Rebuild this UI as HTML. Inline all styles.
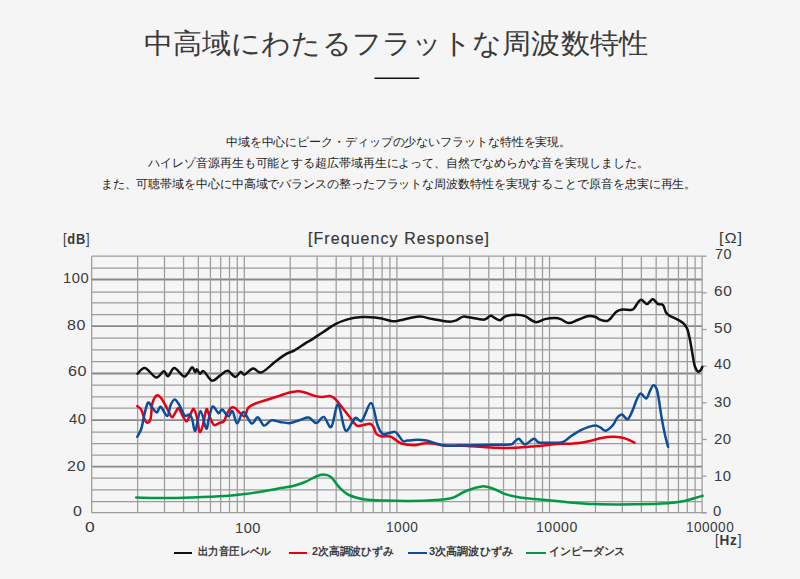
<!DOCTYPE html>
<html lang="ja"><head><meta charset="utf-8">
<style>
html,body{margin:0;padding:0;}
body{width:800px;height:579px;background:#f5f5f5;position:relative;overflow:hidden;font-family:"Liberation Sans",sans-serif;color:#333;}
.a{position:absolute;white-space:nowrap;}
h1{position:absolute;left:0;top:26px;width:795px;margin:0;text-align:center;font-size:30px;line-height:36px;font-weight:normal;color:#222;}
.rule{position:absolute;left:374px;top:77.5px;width:45px;height:1.5px;background:#111;}
.p{position:absolute;left:0;width:797px;text-align:center;font-size:12px;line-height:21px;color:#222;letter-spacing:-0.09px;}
.ax{position:absolute;font-size:14px;line-height:14px;color:#333;white-space:nowrap;}
.lb{position:absolute;line-height:1;white-space:nowrap;transform-origin:0 0;color:#3a3a3a;}
.lg{position:absolute;font-size:11.5px;line-height:14px;color:#333;white-space:nowrap;font-weight:bold;}
.sw{position:absolute;height:2px;width:19px;}
svg{position:absolute;left:0;top:0;}
.g{stroke:#9c9c9c;stroke-width:1.25;}
.gm{stroke:#888;stroke-width:1.8;}
path{fill:none;stroke-width:2.5;stroke-linejoin:round;stroke-linecap:round;}
</style></head><body>
<div class="p" style="top:132px">中域を中心にピーク・ディップの少ないフラットな特性を実現。</div>
<div class="p" style="top:153px">ハイレゾ音源再生も可能とする超広帯域再生によって、自然でなめらかな音を実現しました。</div>
<div class="p" style="top:174px">また、可聴帯域を中心に中高域でバランスの整ったフラットな周波数特性を実現することで原音を忠実に再生。</div>

<svg width="800" height="579" viewBox="0 0 800 579">
<line x1="374.5" y1="78.3" x2="419.2" y2="78.3" stroke="#111" stroke-width="1.5"/>
<line class="g" x1="91.70" y1="256.10" x2="702.10" y2="256.10"/>
<line class="g" x1="91.70" y1="268.00" x2="702.10" y2="268.00"/>
<line class="gm" x1="91.70" y1="279.50" x2="702.10" y2="279.50"/>
<line class="g" x1="91.70" y1="292.00" x2="702.10" y2="292.00"/>
<line class="g" x1="91.70" y1="302.90" x2="702.10" y2="302.90"/>
<line class="g" x1="91.70" y1="314.60" x2="702.10" y2="314.60"/>
<line class="gm" x1="91.70" y1="326.10" x2="702.10" y2="326.10"/>
<line class="g" x1="91.70" y1="338.20" x2="702.10" y2="338.20"/>
<line class="g" x1="91.70" y1="349.80" x2="702.10" y2="349.80"/>
<line class="g" x1="91.70" y1="361.50" x2="702.10" y2="361.50"/>
<line class="gm" x1="91.70" y1="373.50" x2="702.10" y2="373.50"/>
<line class="g" x1="91.70" y1="385.00" x2="702.10" y2="385.00"/>
<line class="g" x1="91.70" y1="396.80" x2="702.10" y2="396.80"/>
<line class="g" x1="91.70" y1="408.00" x2="702.10" y2="408.00"/>
<line class="gm" x1="91.70" y1="420.10" x2="702.10" y2="420.10"/>
<line class="g" x1="91.70" y1="432.00" x2="702.10" y2="432.00"/>
<line class="g" x1="91.70" y1="443.70" x2="702.10" y2="443.70"/>
<line class="g" x1="91.70" y1="455.20" x2="702.10" y2="455.20"/>
<line class="gm" x1="91.70" y1="466.60" x2="702.10" y2="466.60"/>
<line class="g" x1="91.70" y1="478.10" x2="702.10" y2="478.10"/>
<line class="g" x1="91.70" y1="489.80" x2="702.10" y2="489.80"/>
<line class="g" x1="91.70" y1="501.60" x2="702.10" y2="501.60"/>
<line class="g" x1="91.70" y1="512.70" x2="702.10" y2="512.70"/>
<line class="g" x1="91.70" y1="256.20" x2="91.70" y2="512.80"/>
<line class="g" x1="137.64" y1="256.20" x2="137.64" y2="512.80"/>
<line class="g" x1="164.51" y1="256.20" x2="164.51" y2="512.80"/>
<line class="g" x1="183.57" y1="256.20" x2="183.57" y2="512.80"/>
<line class="g" x1="198.36" y1="256.20" x2="198.36" y2="512.80"/>
<line class="g" x1="210.45" y1="256.20" x2="210.45" y2="512.80"/>
<line class="g" x1="220.66" y1="256.20" x2="220.66" y2="512.80"/>
<line class="g" x1="229.51" y1="256.20" x2="229.51" y2="512.80"/>
<line class="g" x1="237.32" y1="256.20" x2="237.32" y2="512.80"/>
<line class="g" x1="244.30" y1="256.20" x2="244.30" y2="512.80"/>
<line class="g" x1="290.24" y1="256.20" x2="290.24" y2="512.80"/>
<line class="g" x1="317.11" y1="256.20" x2="317.11" y2="512.80"/>
<line class="g" x1="336.17" y1="256.20" x2="336.17" y2="512.80"/>
<line class="g" x1="350.96" y1="256.20" x2="350.96" y2="512.80"/>
<line class="g" x1="363.05" y1="256.20" x2="363.05" y2="512.80"/>
<line class="g" x1="373.26" y1="256.20" x2="373.26" y2="512.80"/>
<line class="g" x1="382.11" y1="256.20" x2="382.11" y2="512.80"/>
<line class="g" x1="389.92" y1="256.20" x2="389.92" y2="512.80"/>
<line class="g" x1="396.90" y1="256.20" x2="396.90" y2="512.80"/>
<line class="g" x1="442.84" y1="256.20" x2="442.84" y2="512.80"/>
<line class="g" x1="469.71" y1="256.20" x2="469.71" y2="512.80"/>
<line class="g" x1="488.77" y1="256.20" x2="488.77" y2="512.80"/>
<line class="g" x1="503.56" y1="256.20" x2="503.56" y2="512.80"/>
<line class="g" x1="515.65" y1="256.20" x2="515.65" y2="512.80"/>
<line class="g" x1="525.86" y1="256.20" x2="525.86" y2="512.80"/>
<line class="g" x1="534.71" y1="256.20" x2="534.71" y2="512.80"/>
<line class="g" x1="542.52" y1="256.20" x2="542.52" y2="512.80"/>
<line class="g" x1="549.50" y1="256.20" x2="549.50" y2="512.80"/>
<line class="g" x1="595.44" y1="256.20" x2="595.44" y2="512.80"/>
<line class="g" x1="622.31" y1="256.20" x2="622.31" y2="512.80"/>
<line class="g" x1="641.37" y1="256.20" x2="641.37" y2="512.80"/>
<line class="g" x1="656.16" y1="256.20" x2="656.16" y2="512.80"/>
<line class="g" x1="668.25" y1="256.20" x2="668.25" y2="512.80"/>
<line class="g" x1="678.46" y1="256.20" x2="678.46" y2="512.80"/>
<line class="g" x1="687.31" y1="256.20" x2="687.31" y2="512.80"/>
<line class="g" x1="695.12" y1="256.20" x2="695.12" y2="512.80"/>
<line class="g" x1="702.10" y1="256.20" x2="702.10" y2="512.80"/>
<line class="g" x1="702.10" y1="512.80" x2="706.60" y2="512.80"/>
<line class="g" x1="702.10" y1="512.80" x2="706.60" y2="512.80"/>
<line class="g" x1="702.10" y1="476.14" x2="706.60" y2="476.14"/>
<line class="g" x1="702.10" y1="439.49" x2="706.60" y2="439.49"/>
<line class="g" x1="702.10" y1="402.83" x2="706.60" y2="402.83"/>
<line class="g" x1="702.10" y1="366.17" x2="706.60" y2="366.17"/>
<line class="g" x1="702.10" y1="329.51" x2="706.60" y2="329.51"/>
<line class="g" x1="702.10" y1="292.86" x2="706.60" y2="292.86"/>
<line class="g" x1="702.10" y1="256.20" x2="706.60" y2="256.20"/>
<path d="M136.25,497.50 C141.46,497.60 158.12,498.10 167.50,498.10 C176.88,498.10 182.92,497.85 192.50,497.50 C202.08,497.15 216.25,496.58 225.00,496.00 C233.75,495.42 238.33,494.83 245.00,494.00 C251.67,493.17 259.00,492.00 265.00,491.00 C271.00,490.00 276.33,488.83 281.00,488.00 C285.67,487.17 289.00,487.00 293.00,486.00 C297.00,485.00 301.33,483.50 305.00,482.00 C308.67,480.50 312.00,478.23 315.00,477.00 C318.00,475.77 320.33,474.60 323.00,474.60 C325.67,474.60 328.33,474.93 331.00,477.00 C333.67,479.07 336.00,484.00 339.00,487.00 C342.00,490.00 344.67,492.93 349.00,495.00 C353.33,497.07 359.00,498.47 365.00,499.40 C371.00,500.33 377.50,500.33 385.00,500.60 C392.50,500.87 401.50,501.10 410.00,501.00 C418.50,500.90 429.00,500.50 436.00,500.00 C443.00,499.50 447.00,499.50 452.00,498.00 C457.00,496.50 461.00,492.93 466.00,491.00 C471.00,489.07 477.33,486.73 482.00,486.40 C486.67,486.07 490.00,487.67 494.00,489.00 C498.00,490.33 501.67,493.00 506.00,494.40 C510.33,495.80 514.33,496.55 520.00,497.40 C525.67,498.25 533.12,498.80 540.00,499.50 C546.88,500.20 552.04,500.83 561.25,501.60 C570.46,502.37 582.86,503.65 595.25,504.10 C607.64,504.55 623.56,504.43 635.60,504.30 C647.64,504.17 659.35,503.87 667.50,503.30 C675.65,502.73 679.90,501.78 684.50,500.90 C689.10,500.02 692.08,498.85 695.10,498.00 C698.12,497.15 701.35,496.17 702.60,495.80" stroke="#009a44"/>
<path d="M137.30,406.20 C137.98,406.82 140.20,407.73 141.40,409.90 C142.60,412.07 143.47,417.05 144.50,419.20 C145.53,421.35 146.57,422.97 147.60,422.80 C148.63,422.63 149.92,421.38 150.70,418.20 C151.48,415.02 151.27,407.50 152.30,403.70 C153.33,399.90 155.27,396.10 156.90,395.40 C158.53,394.70 160.37,397.27 162.10,399.50 C163.83,401.73 165.65,405.87 167.30,408.80 C168.95,411.73 170.62,416.57 172.00,417.10 C173.38,417.63 174.48,413.47 175.60,412.00 C176.72,410.53 177.50,407.62 178.70,408.30 C179.90,408.98 181.50,413.93 182.80,416.10 C184.10,418.27 185.37,421.30 186.50,421.30 C187.63,421.30 188.40,418.18 189.60,416.10 C190.80,414.02 192.40,408.28 193.70,408.80 C195.00,409.32 196.45,415.40 197.40,419.20 C198.35,423.00 198.55,430.38 199.40,431.60 C200.25,432.82 201.37,430.12 202.50,426.50 C203.63,422.88 205.27,412.30 206.20,409.90 C207.13,407.50 207.27,410.35 208.10,412.10 C208.93,413.85 210.17,418.23 211.20,420.40 C212.23,422.57 212.92,424.67 214.30,425.10 C215.68,425.53 217.85,423.70 219.50,423.00 C221.15,422.30 222.98,422.37 224.20,420.90 C225.42,419.43 225.68,416.35 226.80,414.20 C227.92,412.05 229.53,409.03 230.90,408.00 C232.27,406.97 233.45,407.13 235.00,408.00 C236.55,408.87 238.55,411.82 240.20,413.20 C241.85,414.58 243.60,417.17 244.90,416.30 C246.20,415.43 246.37,410.08 248.00,408.00 C249.63,405.92 251.50,405.18 254.70,403.80 C257.90,402.42 262.98,401.07 267.20,399.70 C271.42,398.33 276.62,396.70 280.00,395.60 C283.38,394.50 284.58,393.83 287.50,393.10 C290.42,392.38 294.58,391.35 297.50,391.25 C300.42,391.15 302.29,391.77 305.00,392.50 C307.71,393.23 310.83,394.87 313.75,395.60 C316.67,396.33 319.79,396.83 322.50,396.90 C325.21,396.97 327.92,395.69 330.00,396.00 C332.08,396.31 333.12,397.04 335.00,398.75 C336.88,400.46 338.75,403.12 341.25,406.25 C343.75,409.38 347.50,414.33 350.00,417.50 C352.50,420.67 354.38,423.90 356.25,425.25 C358.12,426.60 358.96,425.85 361.25,425.60 C363.54,425.35 367.92,423.43 370.00,423.75 C372.08,424.07 372.71,425.83 373.75,427.50 C374.79,429.17 375.00,432.29 376.25,433.75 C377.50,435.21 378.96,435.79 381.25,436.25 C383.54,436.71 387.71,435.98 390.00,436.50 C392.29,437.02 393.12,438.23 395.00,439.40 C396.88,440.57 398.12,442.52 401.25,443.50 C404.38,444.48 410.00,445.25 413.75,445.25 C417.50,445.25 420.62,443.79 423.75,443.50 C426.88,443.21 429.17,443.15 432.50,443.50 C435.83,443.85 439.17,445.25 443.75,445.60 C448.33,445.95 455.21,445.49 460.00,445.60 C464.79,445.71 466.25,445.89 472.50,446.25 C478.75,446.61 490.21,447.50 497.50,447.75 C504.79,448.00 510.00,448.00 516.25,447.75 C522.50,447.50 529.79,446.71 535.00,446.25 C540.21,445.79 543.33,445.42 547.50,445.00 C551.67,444.58 556.17,443.97 560.00,443.75 C563.83,443.53 567.02,443.88 570.50,443.70 C573.98,443.52 577.43,443.22 580.90,442.70 C584.37,442.18 587.85,441.38 591.30,440.60 C594.75,439.82 597.98,438.63 601.60,438.00 C605.22,437.37 609.72,436.88 613.00,436.80 C616.28,436.72 618.97,437.10 621.30,437.50 C623.63,437.90 624.80,438.33 627.00,439.20 C629.20,440.07 633.25,442.12 634.50,442.70" stroke="#e60012"/>
<path d="M137.30,436.80 C137.98,435.42 140.20,432.30 141.40,428.50 C142.60,424.70 143.38,418.32 144.50,414.00 C145.62,409.68 146.80,403.63 148.10,402.60 C149.40,401.57 150.83,406.15 152.30,407.80 C153.77,409.45 155.52,412.67 156.90,412.50 C158.28,412.33 158.87,406.20 160.60,406.80 C162.33,407.40 165.67,416.28 167.30,416.10 C168.93,415.92 169.18,408.47 170.40,405.70 C171.62,402.93 173.05,399.50 174.60,399.50 C176.15,399.50 177.98,403.02 179.70,405.70 C181.42,408.38 183.25,414.13 184.90,415.60 C186.55,417.07 188.38,413.90 189.60,414.50 C190.82,415.10 191.25,416.52 192.20,419.20 C193.15,421.88 193.92,431.98 195.30,430.60 C196.68,429.22 198.68,411.23 200.50,410.90 C202.32,410.57 204.77,427.53 206.20,428.60 C207.63,429.67 208.00,421.00 209.10,417.30 C210.20,413.60 211.23,407.08 212.80,406.40 C214.37,405.72 216.95,412.68 218.50,413.20 C220.05,413.72 220.47,408.98 222.10,409.50 C223.73,410.02 226.57,416.03 228.30,416.30 C230.03,416.57 231.03,409.90 232.50,411.10 C233.97,412.30 235.30,423.33 237.10,423.50 C238.90,423.67 240.88,412.10 243.30,412.10 C245.72,412.10 249.18,422.63 251.60,423.50 C254.02,424.37 255.72,416.95 257.80,417.30 C259.88,417.65 261.85,425.08 264.10,425.60 C266.35,426.12 268.65,421.02 271.30,420.40 C273.95,419.78 276.88,421.45 280.00,421.90 C283.12,422.35 286.67,423.42 290.00,423.10 C293.33,422.78 296.88,420.93 300.00,420.00 C303.12,419.07 306.04,416.98 308.75,417.50 C311.46,418.02 313.75,423.20 316.25,423.10 C318.75,423.00 321.25,416.27 323.75,416.90 C326.25,417.53 328.86,428.98 331.25,426.90 C333.64,424.82 335.71,403.78 338.10,404.40 C340.49,405.02 342.78,428.32 345.60,430.60 C348.42,432.88 352.28,419.77 355.00,418.10 C357.72,416.43 359.19,423.10 361.90,420.60 C364.61,418.10 368.65,402.37 371.25,403.10 C373.85,403.83 375.62,419.89 377.50,425.00 C379.38,430.11 380.62,432.40 382.50,433.75 C384.38,435.10 386.67,433.41 388.75,433.10 C390.83,432.79 393.33,431.48 395.00,431.90 C396.67,432.32 397.40,434.04 398.75,435.60 C400.10,437.16 401.64,440.42 403.10,441.25 C404.56,442.08 405.10,440.85 407.50,440.60 C409.90,440.35 414.38,439.75 417.50,439.75 C420.62,439.75 423.33,440.04 426.25,440.60 C429.17,441.16 431.88,442.27 435.00,443.10 C438.12,443.93 440.83,445.18 445.00,445.60 C449.17,446.02 453.33,445.70 460.00,445.60 C466.67,445.50 476.67,445.20 485.00,445.00 C493.33,444.80 505.21,444.82 510.00,444.40 C514.79,443.98 512.29,443.44 513.75,442.50 C515.21,441.56 516.88,438.43 518.75,438.75 C520.62,439.07 522.50,444.40 525.00,444.40 C527.50,444.40 531.46,439.07 533.75,438.75 C536.04,438.43 536.46,441.83 538.75,442.50 C541.04,443.17 543.58,442.80 547.50,442.75 C551.42,442.70 558.47,443.24 562.30,442.20 C566.13,441.16 567.40,438.50 570.50,436.50 C573.60,434.50 577.95,431.77 580.90,430.20 C583.85,428.63 585.78,427.87 588.20,427.10 C590.62,426.33 593.33,425.52 595.40,425.60 C597.47,425.68 598.87,426.74 600.60,427.60 C602.33,428.46 603.73,431.18 605.80,430.75 C607.87,430.32 611.10,427.16 613.00,425.00 C614.90,422.84 615.70,419.53 617.20,417.80 C618.70,416.07 620.27,414.37 622.00,414.60 C623.73,414.83 625.87,419.82 627.60,419.20 C629.33,418.58 630.90,414.12 632.40,410.90 C633.90,407.68 635.22,402.78 636.60,399.90 C637.98,397.02 639.10,393.83 640.70,393.60 C642.30,393.37 644.70,398.83 646.20,398.50 C647.70,398.17 648.55,393.78 649.70,391.60 C650.85,389.42 651.95,385.87 653.10,385.40 C654.25,384.93 655.67,386.62 656.60,388.80 C657.53,390.98 657.90,393.90 658.70,398.50 C659.50,403.10 660.37,410.42 661.40,416.40 C662.43,422.38 663.78,429.33 664.90,434.40 C666.02,439.47 667.57,444.73 668.10,446.80" stroke="#0b4c9c"/>
<path d="M137.50,373.75 C138.75,372.81 141.88,367.48 145.00,368.10 C148.12,368.73 153.12,376.98 156.25,377.50 C159.38,378.02 161.78,371.46 163.75,371.25 C165.72,371.04 166.32,376.77 168.10,376.25 C169.88,375.73 171.68,368.06 174.40,368.10 C177.12,368.14 181.48,376.60 184.40,376.50 C187.32,376.40 190.13,368.27 191.90,367.50 C193.67,366.73 194.17,371.58 195.00,371.90 C195.83,372.22 196.07,369.09 196.90,369.40 C197.73,369.71 198.86,373.44 200.00,373.75 C201.14,374.06 201.77,370.11 203.75,371.25 C205.73,372.39 209.19,379.88 211.90,380.60 C214.61,381.33 217.38,377.23 220.00,375.60 C222.62,373.97 225.07,370.57 227.60,370.80 C230.13,371.03 233.02,376.82 235.20,377.00 C237.38,377.18 239.13,372.30 240.70,371.90 C242.27,371.50 242.53,375.18 244.60,374.60 C246.67,374.02 250.30,368.77 253.10,368.40 C255.90,368.03 257.72,373.50 261.40,372.40 C265.08,371.30 271.05,364.88 275.20,361.80 C279.35,358.72 283.07,355.82 286.30,353.90 C289.53,351.98 291.38,352.10 294.60,350.30 C297.82,348.50 303.03,344.72 305.60,343.10 C308.17,341.48 307.18,342.37 310.00,340.60 C312.82,338.83 318.33,335.21 322.50,332.50 C326.67,329.79 330.83,326.54 335.00,324.35 C339.17,322.16 342.92,320.56 347.50,319.35 C352.08,318.14 357.92,317.41 362.50,317.10 C367.08,316.79 371.67,317.23 375.00,317.50 C378.33,317.77 379.58,318.08 382.50,318.70 C385.42,319.32 389.58,320.93 392.50,321.20 C395.42,321.48 397.08,320.87 400.00,320.35 C402.92,319.83 406.57,318.73 410.00,318.10 C413.43,317.48 416.85,316.43 420.60,316.60 C424.35,316.77 427.81,318.27 432.50,319.10 C437.19,319.93 444.79,321.39 448.75,321.60 C452.71,321.81 453.86,321.18 456.25,320.35 C458.64,319.52 460.81,317.08 463.10,316.60 C465.39,316.12 466.77,317.00 470.00,317.50 C473.23,318.00 479.79,319.40 482.50,319.60 C485.21,319.80 484.90,319.33 486.25,318.70 C487.60,318.08 489.14,315.95 490.60,315.85 C492.06,315.75 493.43,317.38 495.00,318.10 C496.57,318.83 498.23,320.52 500.00,320.20 C501.77,319.88 502.89,317.12 505.60,316.20 C508.31,315.28 513.02,314.70 516.25,314.70 C519.48,314.70 521.77,314.97 525.00,316.20 C528.23,317.43 532.27,321.62 535.60,322.10 C538.93,322.58 541.77,319.77 545.00,319.10 C548.23,318.43 552.29,318.06 555.00,318.10 C557.71,318.14 558.96,318.52 561.25,319.35 C563.54,320.18 566.04,322.99 568.75,323.10 C571.46,323.21 574.38,321.15 577.50,320.00 C580.62,318.85 584.58,316.75 587.50,316.20 C590.42,315.65 592.92,316.13 595.00,316.70 C597.08,317.27 598.00,318.88 600.00,319.60 C602.00,320.32 605.17,321.27 607.00,321.00 C608.83,320.73 609.50,319.50 611.00,318.00 C612.50,316.50 614.17,313.42 616.00,312.00 C617.83,310.58 619.50,309.83 622.00,309.50 C624.50,309.17 629.00,310.17 631.00,310.00 C633.00,309.83 632.83,309.75 634.00,308.50 C635.17,307.25 636.75,303.95 638.00,302.50 C639.25,301.05 640.00,299.55 641.50,299.80 C643.00,300.05 645.17,304.10 647.00,304.00 C648.83,303.90 651.00,299.53 652.50,299.20 C654.00,298.87 655.08,301.20 656.00,302.00 C656.92,302.80 656.83,303.50 658.00,304.00 C659.17,304.50 661.67,303.58 663.00,305.00 C664.33,306.42 664.83,310.67 666.00,312.50 C667.17,314.33 668.33,314.95 670.00,316.00 C671.67,317.05 673.83,317.63 676.00,318.80 C678.17,319.97 681.15,321.38 683.00,323.00 C684.85,324.62 685.95,325.75 687.10,328.50 C688.25,331.25 688.98,335.13 689.90,339.50 C690.82,343.87 691.80,350.32 692.60,354.70 C693.40,359.08 693.78,362.98 694.70,365.80 C695.62,368.62 697.07,370.92 698.10,371.60 C699.13,372.28 700.20,370.68 700.90,369.90 C701.60,369.12 702.07,367.40 702.30,366.90" stroke="#111"/>

</svg>

<div class="lb" style="left:143.97px;top:29.90px;font-size:28px;font-weight:normal;transform:scale(1.0387,1.0000);">中高域にわたるフラットな周波数特性</div>
<div class="lb" style="left:63.01px;top:232.16px;font-size:14px;font-weight:normal;transform:scale(0.9206,1.0000);letter-spacing:0.8px">[<b>dB</b>]</div>
<div class="lb" style="left:307.66px;top:231.25px;font-size:16px;font-weight:normal;transform:scale(0.9953,1.0000);letter-spacing:1.1px;-webkit-text-stroke:0.2px #333">[Frequency Response]</div>
<div class="lb" style="left:719.33px;top:230.68px;font-size:14px;font-weight:normal;transform:scale(1.1632,1.0000);letter-spacing:0.8px">[Ω]</div>
<div class="lb" style="left:62.98px;top:270.70px;font-size:14px;font-weight:normal;transform:scale(1.0521,1.0000);letter-spacing:0.5px">100</div>
<div class="lb" style="left:67.45px;top:318.02px;font-size:14px;font-weight:normal;transform:scale(1.1467,1.0000);letter-spacing:0.5px">80</div>
<div class="lb" style="left:67.99px;top:363.84px;font-size:14px;font-weight:normal;transform:scale(1.1556,1.0000);letter-spacing:0.5px">60</div>
<div class="lb" style="left:68.91px;top:411.60px;font-size:14px;font-weight:normal;transform:scale(1.0494,1.0000);letter-spacing:0.5px">40</div>
<div class="lb" style="left:67.45px;top:458.51px;font-size:14px;font-weight:normal;transform:scale(1.1467,1.0000);letter-spacing:0.5px">20</div>
<div class="lb" style="left:73.48px;top:503.67px;font-size:14px;font-weight:normal;transform:scale(1.1412,1.0000);letter-spacing:0.5px">0</div>
<div class="lb" style="left:714.78px;top:246.67px;font-size:14px;font-weight:normal;transform:scale(1.0272,1.0000);letter-spacing:0.5px">70</div>
<div class="lb" style="left:713.71px;top:284.22px;font-size:14px;font-weight:normal;transform:scale(1.1027,1.0000);letter-spacing:0.5px">60</div>
<div class="lb" style="left:713.71px;top:321.35px;font-size:14px;font-weight:normal;transform:scale(1.1027,1.0000);letter-spacing:0.5px">50</div>
<div class="lb" style="left:713.80px;top:356.98px;font-size:14px;font-weight:normal;transform:scale(1.0551,1.0000);letter-spacing:0.5px">40</div>
<div class="lb" style="left:713.70px;top:394.78px;font-size:14px;font-weight:normal;transform:scale(1.0683,1.0000);letter-spacing:0.5px">30</div>
<div class="lb" style="left:713.70px;top:431.92px;font-size:14px;font-weight:normal;transform:scale(1.0683,1.0000);letter-spacing:0.5px">20</div>
<div class="lb" style="left:714.09px;top:468.71px;font-size:14px;font-weight:normal;transform:scale(1.0579,1.0000);letter-spacing:0.5px">10</div>
<div class="lb" style="left:713.35px;top:503.88px;font-size:14px;font-weight:normal;transform:scale(1.0605,1.0000);letter-spacing:0.5px">0</div>
<div class="lb" style="left:84.73px;top:519.73px;font-size:14px;font-weight:normal;transform:scale(1.2460,1.0000);letter-spacing:0.5px">0</div>
<div class="lb" style="left:234.96px;top:520.55px;font-size:14px;font-weight:normal;transform:scale(1.0450,1.0000);letter-spacing:0.5px">100</div>
<div class="lb" style="left:386.03px;top:519.64px;font-size:14px;font-weight:normal;transform:scale(0.9768,1.0000);letter-spacing:0.5px">1000</div>
<div class="lb" style="left:535.81px;top:519.83px;font-size:14px;font-weight:normal;transform:scale(1.0081,1.0000);letter-spacing:0.5px">10000</div>
<div class="lb" style="left:686.04px;top:519.58px;font-size:14px;font-weight:normal;transform:scale(0.9690,1.0000);letter-spacing:0.5px">100000</div>
<div class="lb" style="left:714.62px;top:532.54px;font-size:14px;font-weight:normal;transform:scale(0.9678,1.0000);letter-spacing:0.8px">[<b>Hz</b>]</div>
<div class="lb" style="left:197.58px;top:546.44px;font-size:11px;font-weight:bold;transform:scale(0.9463,1.0000);">出力音圧レベル</div>
<div class="lb" style="left:311.56px;top:546.07px;font-size:11px;font-weight:bold;transform:scale(0.9810,1.0000);">2次高調波ひずみ</div>
<div class="lb" style="left:428.91px;top:546.07px;font-size:11px;font-weight:bold;transform:scale(1.0097,1.0000);">3次高調波ひずみ</div>
<div class="lb" style="left:548.82px;top:545.75px;font-size:11px;font-weight:bold;transform:scale(0.9917,1.0000);">インピーダンス</div>

<div class="sw" style="left:173.5px;top:551.7px;width:18px;background:#111"></div>
<div class="sw" style="left:289px;top:551.7px;width:18px;background:#e60012"></div>
<div class="sw" style="left:407.5px;top:551.7px;width:19.5px;background:#0b4c9c"></div>
<div class="sw" style="left:526px;top:551.7px;width:19.5px;background:#009a44"></div>
</body></html>
